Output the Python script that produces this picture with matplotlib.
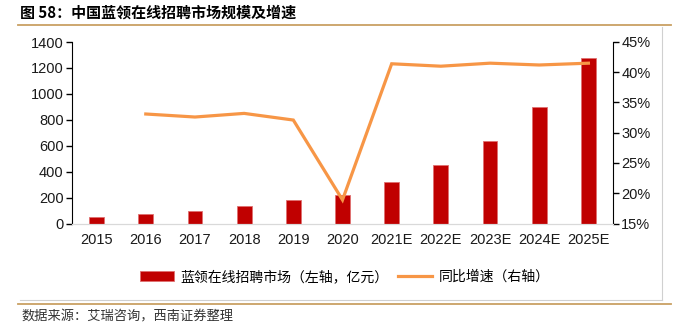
import numpy as np
import matplotlib
matplotlib.use('Agg')
import matplotlib.pyplot as plt
from matplotlib.lines import Line2D

plt.rcParams['font.family'] = ['Liberation Sans', 'Noto Sans CJK SC', 'DejaVu Sans']

# data
years = ['2015', '2016', '2017', '2018', '2019', '2020',
         '2021E', '2022E', '2023E', '2024E', '2025E']
market_size = [53, 72, 98, 134, 185, 216, 317, 448, 636, 896, 1277]   # 亿元
growth = [np.nan, 33.1, 32.6, 33.2, 32.1, 18.9, 41.4, 41.0, 41.5, 41.2, 41.5]  # %

bar_label = '蓝领在线招聘市场（左轴，亿元）'
line_label = '同比增速（右轴）'
title = '图 58：中国蓝领在线招聘市场规模及增速'
source = '数据来源：艾瑞咨询，西南证券整理'

W, H = 677, 336
fig = plt.figure(figsize=(W / 100, H / 100), dpi=100)
ax = fig.add_axes([72 / W, 1 - 223.5 / H, (613 - 72) / W, (223.5 - 42) / H])
ax2 = ax.twinx()

x = np.arange(len(years))
ax.bar(x, market_size, width=0.3, color='#C00000', edgecolor='#E07070',
       linewidth=0.6, label=bar_label, zorder=2)
ax2.plot(x, np.array(growth) / 100, color='#F79646', lw=2.3,
         label=line_label, solid_joinstyle='miter')

ax.set_xlim(-0.5, len(years) - 0.5)
ax.set_ylim(0, 1400)
ax.set_yticks(range(0, 1401, 200))
ax2.set_ylim(0.15, 0.45)
ax2.set_yticks(np.arange(0.15, 0.451, 0.05))
ax2.set_yticklabels([f'{int(round(v * 100))}%' for v in np.arange(0.15, 0.451, 0.05)])

ax.set_xticks(x)
ax.set_xticklabels(years)

txt = '#1a1a1a'
for a in (ax, ax2):
    a.spines['top'].set_visible(False)
    a.spines['bottom'].set_color('#D9D9D9')
    a.spines['left'].set_color('black')
    a.spines['right'].set_color('black')
    a.tick_params(axis='y', length=4, width=1, colors='black', labelcolor=txt,
                  labelsize=10.5, pad=2)
    a.tick_params(axis='x', length=0, labelcolor=txt, labelsize=10.5, pad=7)
ax2.spines['left'].set_visible(False)
ax.spines['right'].set_visible(False)

# legend
h1, l1 = ax.get_legend_handles_labels()
h2, l2 = ax2.get_legend_handles_labels()
fig.legend(h1 + h2, l1 + l2, loc='center', bbox_to_anchor=(345 / W, 1 - 277 / H),
           ncol=2, frameon=False, handlelength=2.4, handletextpad=0.5,
           columnspacing=0.7, prop={'family': ['Noto Sans CJK SC'], 'size': 10})

# title, frame lines and source
fig.text(20 / W, 1 - 13 / H, title, ha='left', va='center', fontsize=10.8,
         fontweight='bold', family=['Noto Sans CJK SC'], color='black')
gold = '#C9A063'
fig.add_artist(Line2D([18 / W, 671 / W], [1 - 25 / H] * 2, color=gold, lw=1.3))
fig.add_artist(Line2D([18 / W, 671 / W], [1 - 303.5 / H] * 2, color=gold, lw=1.3))
fig.add_artist(Line2D([20 / W, 662 / W], [1 - 299.5 / H] * 2, color='#D0D0D0', lw=0.8))
fig.add_artist(Line2D([662 / W, 662 / W], [1 - 27 / H, 1 - 299.5 / H],
                      color='#D0D0D0', lw=0.8))
fig.text(21 / W, 1 - 317 / H, source, ha='left', va='center', fontsize=9.5,
         family=['Noto Sans CJK SC'], color='#333333', style='italic')

fig.savefig('out.png', dpi=100)
